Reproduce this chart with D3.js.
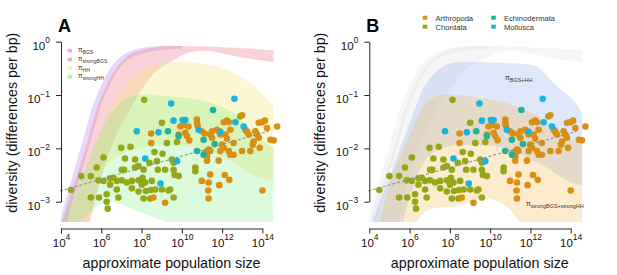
<!DOCTYPE html>
<html lang="en">
<head>
  <meta charset="UTF-8">
  <title>diversity vs population size</title>
  <script src="https://cdn.jsdelivr.net/npm/d3@7"></script>
  <style>
    body { margin: 0; background: #fff; }
    svg { display: block; font-family: "Liberation Sans", Arial, sans-serif; }
  </style>
</head>
<body>
  <div id="wrapper"></div>
  <script>
    // tick values
    const xTicks = [1e4, 1e6, 1e8, 1e10, 1e12, 1e14]
    const yTicks = [1e-3, 1e-2, 1e-1, 1]
    const phyla = ['Arthropoda', 'Chordata', 'Echinodermata', 'Mollusca']

    // species: [log10 population size, log10 diversity]
    const arthropoda = [
      [9.92,-1.59],[10.09,-1.56],[10.33,-1.59],[10.75,-1.46],[10.75,-1.52],[10.78,-1.57],[9.84,-1.74],
      [10.17,-1.71],[10.25,-1.77],[10.37,-1.85],[10.99,-1.68],[11.13,-1.72],[11.50,-1.68],[11.41,-1.74],
      [11.50,-1.80],[11.74,-1.65],[11.83,-1.68],[11.91,-1.74],[12.08,-1.51],[12.24,-1.48],[12.33,-1.51],
      [12.41,-1.65],[12.16,-1.74],[12.24,-1.82],[12.99,-1.38],[13.82,-1.52],[13.98,-1.51],[14.12,-1.48],
      [13.16,-1.65],[13.24,-1.69],[13.32,-1.74],[13.65,-1.68],[13.74,-1.74],[13.82,-1.80],[14.23,-1.62],
      [14.73,-1.59],[14.40,-1.84],[14.56,-1.85],[13.57,-1.87],[13.52,-1.93],[13.87,-1.99],[12.99,-2.05],
      [13.40,-2.05],[12.57,-1.90],[11.99,-1.93],[12.08,-1.99],[11.91,-2.05],[12.33,-2.05],[12.41,-2.12],
      [12.57,-2.12],[11.33,-2.02],[11.41,-2.05],[11.16,-2.08],[11.25,-2.15],[11.25,-2.23],[11.83,-2.23],
      [10.99,-2.61],[11.33,-2.64],[11.41,-2.49],[12.13,-2.50],[12.36,-2.59],[11.31,-2.79],[11.86,-2.69],
      [11.33,-2.94],[14.00,-2.79],[9.17,-3.02],[8.48,-1.72],[8.48,-1.90],[8.59,-2.92]
    ]
    const chordata = [
      [8.13,-1.09],[9.01,-1.52],[9.26,-1.90],[6.99,-1.99],[6.11,-2.17],[7.18,-2.19],[7.68,-2.21],
      [8.64,-2.07],[9.04,-2.10],[5.77,-2.36],[5.00,-2.52],[5.48,-2.52],[5.86,-2.60],[6.11,-2.61],
      [6.44,-2.56],[6.60,-2.55],[7.02,-2.40],[7.13,-2.40],[7.68,-2.36],[7.85,-2.33],[8.10,-2.40],
      [8.39,-2.27],[8.76,-2.24],[8.81,-2.40],[9.17,-2.40],[4.50,-2.78],[6.44,-2.68],[6.77,-2.61],
      [7.02,-2.60],[7.27,-2.64],[7.52,-2.61],[7.85,-2.60],[8.05,-2.55],[8.18,-2.64],[8.51,-2.61],
      [6.77,-2.77],[7.52,-2.75],[8.01,-2.68],[8.68,-2.77],[9.01,-2.77],[9.42,-2.77],[6.27,-2.86],
      [7.85,-2.81],[8.21,-2.80],[8.46,-2.78],[5.48,-2.92],[5.89,-2.92],[6.85,-2.92],[8.10,-2.94],
      [8.43,-2.94],[6.27,-3.00],[6.32,-3.13],[9.76,-1.88],[9.51,-2.21],[9.59,-2.27],[9.59,-2.40],
      [9.64,-2.50],[9.84,-2.52],[10.67,-2.36],[10.67,-2.43],[9.34,-2.79],[9.59,-2.92],[12.90,-1.40],
      [7.45,-1.97]
    ]
    const echinodermata = [
      [11.55,-1.28],[9.31,-1.68],[9.84,-1.77],[11.08,-1.84],[11.63,-1.92],[10.75,-2.05],[11.08,-2.12]
    ]
    const mollusca = [
      [9.47,-1.16],[12.61,-1.07],[9.59,-1.48],[10.04,-1.47],[10.17,-1.47],[10.83,-1.65],[11.91,-1.69],
      [12.66,-1.51],[13.07,-1.59],[9.76,-2.24],[7.76,-1.68],[8.84,-1.70],[8.18,-2.19],[8.94,-2.66]
    ]
    const fitLine = [[3.95, -2.80], [14.30, -1.68]]

    // model ranges: upper / lower edge, [log10 N, log10 pi]
    const bgsUpper = [[3.85,-3.6],[3.95,-3.38],[4.95,-2.03],[5.79,-1.0],[6.79,-0.34],[7.93,-0.12],[9.0,-0.08],[10.0,-0.08]]
    const bgsLower = [[4.2,-3.6],[4.3,-3.38],[5.34,-2.03],[6.19,-1.0],[7.18,-0.38],[8.43,-0.19],[9.4,-0.14],[10.0,-0.13]]
    const strongBgsUpper = [[3.95,-3.6],[4.05,-3.38],[5.2,-2.03],[6.04,-1.0],[7.18,-0.31],[8.43,-0.12],[9.92,-0.08],[12.4,-0.11],[14.55,-0.16]]
    const strongBgsLower = [[5.35,-3.6],[5.44,-3.38],[6.44,-2.03],[7.68,-1.1],[8.68,-0.57],[9.67,-0.33],[10.4,-0.2],[11.3,-0.17],[12.4,-0.25],[13.5,-0.33],[14.55,-0.38]]
    const hhUpper = [[4.35,-3.6],[4.45,-3.38],[5.7,-2.03],[6.69,-1.1],[7.93,-0.57],[9.17,-0.4],[10.9,-0.4],[12.5,-0.57],[13.5,-0.81],[14.15,-1.06],[14.55,-1.19]]
    const hhLower = [[5.35,-3.6],[5.44,-3.38],[6.19,-2.37],[7.18,-2.07],[8.43,-1.96],[9.42,-1.94],[10.82,-1.99],[12.5,-2.26],[13.5,-2.5],[14.55,-2.63]]
    const strongHhUpper = [[3.95,-3.6],[4.05,-3.38],[5.34,-2.26],[6.19,-1.51],[7.03,-1.13],[7.83,-1.0],[9.17,-1.02],[10.82,-1.09],[12.5,-1.32],[13.5,-1.69],[14.55,-1.99]]
    const strongHhLower = [[4.85,-3.6],[5.0,-3.38],[6.2,-3.0],[7.0,-3.05],[7.9,-3.2],[9.0,-3.35],[10.0,-3.5],[12.0,-3.8],[14.55,-3.9]]
    const bothUpper = [[4.08,-3.6],[4.18,-3.38],[5.17,-2.37],[6.02,-1.51],[6.86,-0.76],[7.76,-0.44],[8.5,-0.38],[9.0,-0.38],[10.64,-0.4],[12.33,-0.47],[13.13,-0.77],[14.12,-1.09],[14.56,-1.34]]
    const bothLower = [[5.6,-3.6],[5.68,-3.38],[6.87,-2.18],[8.16,-1.94],[9.0,-1.94],[10.64,-1.99],[12.33,-2.26],[13.97,-2.63],[14.56,-2.69]]
    const strongBothUpper = [[4.43,-3.6],[4.53,-3.38],[5.17,-2.5],[6.02,-1.75],[6.86,-1.13],[7.66,-1.0],[9.25,-1.04],[10.64,-1.13],[12.33,-1.38],[13.62,-1.75],[14.56,-1.94]]
    const strongBothLower = [[6.2,-3.6],[6.35,-3.38],[6.87,-3.16],[8.5,-3.07],[9.75,-2.94],[10.74,-3.07],[11.48,-3.38],[12.5,-3.7],[14.56,-3.9]]

    const phylumColors = ['#d98e14', '#93a817', '#1db39b', '#19b3e0']
    const phylumData = [arthropoda, chordata, echinodermata, mollusca]
    const drawOrder = [1, 0, 2, 3]

    const bandsA = [
      { upper: bgsUpper, lower: bgsLower, color: '#b57af0', opacity: 0.3, label: 'BGS' },
      { upper: strongBgsUpper, lower: strongBgsLower, color: '#f07a88', opacity: 0.33, label: 'strongBGS' },
      { upper: hhUpper, lower: hhLower, color: '#f2e66a', opacity: 0.3, label: 'HH' },
      { upper: strongHhUpper, lower: strongHhLower, color: '#74ea74', opacity: 0.25, label: 'strongHH' },
    ]
    const bandsB = [
      { upper: bgsUpper, lower: bgsLower, color: '#d4d4d4', opacity: 0.2 },
      { upper: strongBgsUpper, lower: strongBgsLower, color: '#d4d4d4', opacity: 0.2 },
      { upper: bothUpper, lower: bothLower, color: '#7aa2ea', opacity: 0.25 },
      { upper: strongBothUpper, lower: strongBothLower, color: '#f8b84a', opacity: 0.28 },
    ]

    const dimensions = {
      width: 617,
      height: 275,
      axisWidth: 201.4,
      yTop: 41.7,
      yBottom: 201.7,
      xAxisY: 228.5,
      clipTop: 30,
      clipBottom: 222,
    }

    const svg = d3.select('#wrapper')
      .append('svg')
        .attr('width', dimensions.width)
        .attr('height', dimensions.height)

    // pi with a subscript
    const piLabel = (g, x, y, sub, size) => {
      const t = g.append('text')
        .attr('x', x)
        .attr('y', y)
        .attr('fill', '#333')
        .style('font-size', `${size}px`)
      t.append('tspan').text('π')
      t.append('tspan')
        .attr('dy', size * 0.3)
        .style('font-size', `${size * 0.78}px`)
        .text(sub)
      return t
    }

    const powerLabel = (sel, d) => {
      const e = Math.round(Math.log10(d))
      sel.text('')
      sel.append('tspan').text('10')
      sel.append('tspan')
        .attr('dy', -6.5)
        .style('font-size', '8.5px')
        .text(e < 0 ? '\u2212' + (-e) : e)
    }

    const drawPanel = (left, letter, bands) => {
      const g = svg.append('g')

      const xScale = d3.scaleLog()
        .domain([1e4, 1e14])
        .range([left, left + dimensions.axisWidth])
      const yScale = d3.scaleLog()
        .domain([1e-3, 1])
        .range([dimensions.yBottom, dimensions.yTop])

      const px = d => xScale(10 ** d[0])
      const py = d => yScale(10 ** d[1])

      const clipId = 'clip' + letter
      g.append('clipPath')
        .attr('id', clipId)
        .append('rect')
          .attr('x', xScale(10 ** 3.8))
          .attr('y', dimensions.clipTop)
          .attr('width', xScale(10 ** 15.2) - xScale(10 ** 3.8))
          .attr('height', dimensions.clipBottom - dimensions.clipTop)

      const edge = d3.line().x(px).y(py).curve(d3.curveCatmullRom)
      const bandG = g.append('g').attr('clip-path', `url(#${clipId})`)
      bands.forEach(b => {
        bandG.append('path')
          .attr('d', edge(b.upper) + edge(b.lower.slice().reverse()).replace('M', 'L') + 'Z')
          .attr('fill', b.color)
          .attr('fill-opacity', b.opacity)
      })

      // points
      drawOrder.forEach(i => {
        g.append('g')
          .selectAll('circle')
          .data(phylumData[i])
          .join('circle')
            .attr('cx', px)
            .attr('cy', py)
            .attr('r', 3.3)
            .attr('fill', phylumColors[i])
      })

      // fitted line
      g.append('path')
        .attr('d', d3.line().x(px).y(py)(fitLine))
        .attr('fill', 'none')
        .attr('stroke', '#8a8a8a')
        .attr('stroke-width', 1)
        .attr('stroke-dasharray', '3,2')

      // axes
      const xAxis = g.append('g')
        .attr('transform', `translate(0,${dimensions.xAxisY})`)
        .call(d3.axisBottom(xScale).tickValues(xTicks).tickSize(5).tickSizeOuter(0).tickFormat(() => ''))
      xAxis.selectAll('.tick text')
        .attr('y', 18)
        .attr('dy', null)
        .attr('fill', '#111')
        .style('font-size', '11.5px')
        .each(function (d) { powerLabel(d3.select(this), d) })

      const yAxis = g.append('g')
        .attr('transform', `translate(${left},0)`)
        .call(d3.axisLeft(yScale).tickValues(yTicks).tickSize(5).tickSizeOuter(0).tickFormat(() => ''))
      yAxis.selectAll('.tick text')
        .attr('x', -11)
        .attr('y', 7.5)
        .attr('dy', null)
        .attr('fill', '#111')
        .style('font-size', '11.5px')
        .each(function (d) { powerLabel(d3.select(this), d) })

      g.selectAll('.domain, .tick line').attr('stroke', '#222')
      g.selectAll('.tick text').attr('font-family', null)

      g.append('text')
        .attr('transform', `translate(${left - 44},${(dimensions.yTop + dimensions.yBottom) / 2 + 1}) rotate(-90)`)
        .attr('text-anchor', 'middle')
        .attr('fill', '#111')
        .style('font-size', '14.3px')
        .text('diversity (differences per bp)')

      g.append('text')
        .attr('x', left + 110.5)
        .attr('y', 268)
        .attr('text-anchor', 'middle')
        .attr('fill', '#111')
        .style('font-size', '14.3px')
        .text('approximate population size')

      g.append('text')
        .attr('x', left - 3)
        .attr('y', 32)
        .attr('fill', '#000')
        .style('font-size', '18px')
        .style('font-weight', 'bold')
        .text(letter)

      return { g, xScale, yScale }
    }

    // panel A
    const panelA = drawPanel(61, 'A', bandsA)
    bandsA.forEach((b, i) => {
      const rowY = 50.7 + i * 8.7
      panelA.g.append('rect')
        .attr('x', 67.5)
        .attr('y', rowY - 1.8)
        .attr('width', 4.5)
        .attr('height', 3.6)
        .attr('fill', b.color)
        .attr('fill-opacity', 0.6)
      piLabel(panelA.g, 78, rowY + 1.5, b.label, 6.5)
    })

    // panel B
    const panelB = drawPanel(369.3, 'B', bandsB)
    phyla.forEach((name, i) => {
      const col = Math.floor(i / 2)
      const row = i % 2
      const sx = 425 + col * 68.5
      const sy = 17.7 + row * 9
      panelB.g.append('rect')
        .attr('x', sx - 2.3)
        .attr('y', sy - 2)
        .attr('width', 4.6)
        .attr('height', 4)
        .attr('fill', phylumColors[i])
      panelB.g.append('text')
        .attr('x', sx + 10.5)
        .attr('y', sy + 2.8)
        .attr('fill', '#333')
        .style('font-size', '7.6px')
        .text(name)
    })
    piLabel(panelB.g, 505, 80, 'BGS+HH', 7)
    piLabel(panelB.g, 526, 206, 'strongBGS+strongHH', 7)
  </script>
</body>
</html>
